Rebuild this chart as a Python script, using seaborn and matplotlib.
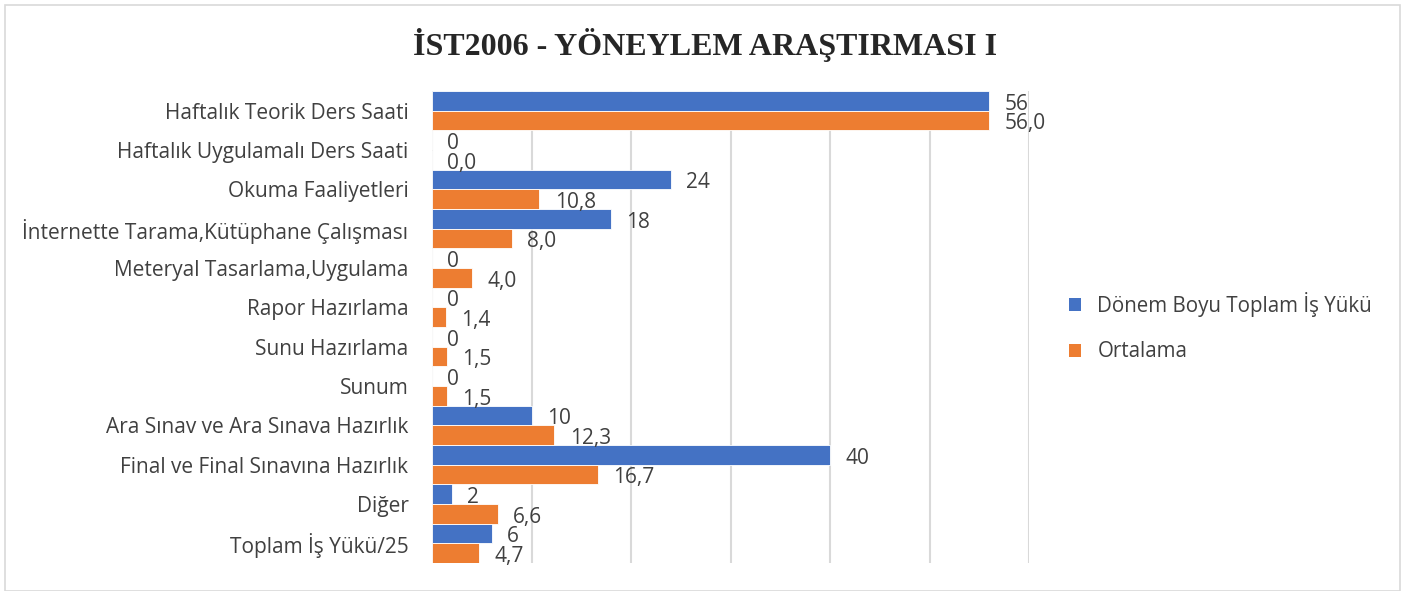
"""
Horizontal grouped bar chart: course workload (IST2006).
"""

import pandas as pd
import numpy as np
import matplotlib.pyplot as plt
import seaborn as sns
from matplotlib.patches import Patch, Rectangle

title = 'İST2006 - YÖNEYLEM ARAŞTIRMASI I'

categories = [
    'Haftalık Teorik Ders Saati',
    'Haftalık Uygulamalı Ders Saati',
    'Okuma Faaliyetleri',
    'İnternette Tarama,Kütüphane Çalışması',
    'Meteryal Tasarlama,Uygulama',
    'Rapor Hazırlama',
    'Sunu Hazırlama',
    'Sunum',
    'Ara Sınav ve Ara Sınava Hazırlık',
    'Final ve Final Sınavına Hazırlık',
    'Diğer',
    'Toplam İş Yükü/25',
]
series_names = ['Dönem Boyu Toplam İş Yükü', 'Ortalama']
toplam = [56, 0, 24, 18, 0, 0, 0, 0, 10, 40, 2, 6]
ortalama = [56.0, 0.0, 10.8, 8.0, 4.0, 1.4, 1.5, 1.5, 12.3, 16.7, 6.6, 4.7]

colors = ['#4472C4', '#ED7D31']
text_color = '#404040'
grid_color = '#D9D9D9'

sns.set_style('white')
plt.rcParams['font.family'] = ['Open Sans', 'DejaVu Sans']

df = pd.DataFrame({
    'kategori': categories * 2,
    'seri': [series_names[0]] * len(categories) + [series_names[1]] * len(categories),
    'deger': toplam + ortalama,
})

fig = plt.figure(figsize=(14.1, 5.91), dpi=100)
ax = fig.add_axes([432 / 1410, 1 - 563 / 591, (1029 - 432) / 1410, (563 - 91) / 591])

sns.barplot(data=df, y='kategori', x='deger', hue='seri', order=categories,
            hue_order=series_names, palette=colors, saturation=1, orient='h',
            width=1.0, errorbar=None, edgecolor='white', linewidth=0.6, ax=ax,
            legend=False)

ax.set_xlim(0, 60)
ax.set_ylim(len(categories) - 0.5, -0.5)
ax.set_xticks(np.arange(0, 61, 10))
ax.xaxis.grid(True, color=grid_color, linewidth=1.5)
ax.set_axisbelow(True)
ax.tick_params(axis='x', length=0, labelbottom=False)
ax.tick_params(axis='y', length=0, pad=17, labelsize=15, labelcolor=text_color)
ax.set_xlabel('')
ax.set_ylabel('')
for s in ax.spines.values():
    s.set_visible(False)

# data labels (sit a little below the bar centre, as in the original)
for cont, labs in zip(ax.containers,
                      [[f'{v:d}' for v in toplam],
                       [f'{v:.1f}'.replace('.', ',') for v in ortalama]]):
    texts = ax.bar_label(cont, labels=labs, padding=11, fontsize=15, color=text_color)
    for t in texts:
        x, y = t.xyann
        t.xyann = (x, y - 2.5)

fig.text(0.5, 1 - 45 / 591, title, ha='center', va='center', fontsize=23,
         fontweight='bold', family='Liberation Serif')

handles = [Patch(facecolor=c, edgecolor='none') for c in colors]
ax.legend(handles, series_names, loc='center left',
          bbox_to_anchor=(1050 / 1410, 1 - 327 / 591), bbox_transform=fig.transFigure,
          frameon=False, fontsize=14.8, labelcolor=text_color, handlelength=0.6,
          handleheight=0.6, handletextpad=0.8, labelspacing=1.2)

# chart frame
fig.patches.append(Rectangle((5 / 1410, 0), 1395 / 1410, 586 / 591,
                             transform=fig.transFigure, fill=False,
                             edgecolor=grid_color, linewidth=1.2))

fig.savefig('out.png', dpi=100)
